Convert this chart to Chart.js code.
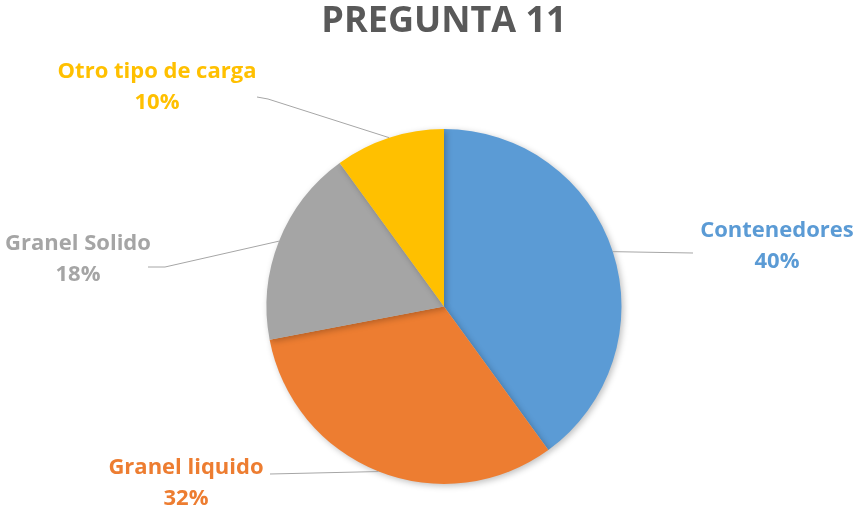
<!DOCTYPE html>
<html>
<head>
<meta charset="utf-8">
<script src="https://cdn.jsdelivr.net/npm/chart.js@4.4.1/dist/chart.umd.min.js"></script>
<style>
  html, body { margin: 0; padding: 0; background: #fff; }
  #wrap { width: 855px; height: 515px; }
</style>
</head>
<body>
<div id="wrap"><canvas id="chart" width="855" height="515"></canvas></div>
<script>
const categories = ['Contenedores', 'Granel liquido', 'Granel Solido', 'Otro tipo de carga'];
const percentages = [40, 32, 18, 10];
const sliceColors = ['#5B9BD5', '#ED7D31', '#A5A5A5', '#FFC000'];

// where each leader line ends (elbow) and where its label sits
const labelSpots = [
  { elbow: [[693, 253]], text: [777, 231] },
  { elbow: [[270, 474]], text: [186, 468] },
  { elbow: [[165, 267], [148, 267]], text: [78, 244] },
  { elbow: [[268, 99], [257, 97]], text: [157, 72] }
];

const shadowPlugin = {
  id: 'pieShadow',
  beforeDatasetDraw(chart) {
    const ctx = chart.ctx;
    ctx.save();
    ctx.shadowColor = 'rgba(0,0,0,0.25)';
    ctx.shadowBlur = 6;
    ctx.shadowOffsetX = 2;
    ctx.shadowOffsetY = 2;
  },
  afterDatasetDraw(chart) {
    chart.ctx.restore();
  }
};

const labelPlugin = {
  id: 'leaderLabels',
  afterDatasetsDraw(chart) {
    const ctx = chart.ctx;
    const meta = chart.getDatasetMeta(0);
    meta.data.forEach((arc, i) => {
      const mid = (arc.startAngle + arc.endAngle) / 2;
      const sx = arc.x + Math.cos(mid) * arc.outerRadius;
      const sy = arc.y + Math.sin(mid) * arc.outerRadius;
      const spot = labelSpots[i];
      ctx.save();
      ctx.strokeStyle = '#A6A6A6';
      ctx.lineWidth = 1;
      ctx.beginPath();
      ctx.moveTo(sx, sy);
      spot.elbow.forEach(p => ctx.lineTo(p[0], p[1]));
      ctx.stroke();
      ctx.fillStyle = sliceColors[i];
      ctx.font = 'bold 22px "Open Sans", sans-serif';
      ctx.textAlign = 'center';
      ctx.textBaseline = 'middle';
      ctx.fillText(categories[i], spot.text[0], spot.text[1]);
      ctx.fillText(percentages[i] + '%', spot.text[0], spot.text[1] + 31);
      ctx.restore();
    });
  }
};

new Chart(document.getElementById('chart'), {
  type: 'pie',
  data: {
    labels: categories,
    datasets: [{
      data: percentages,
      backgroundColor: sliceColors,
      borderWidth: 0
    }]
  },
  options: {
    responsive: false,
    animation: false,
    layout: { padding: { left: 33, right: 0, top: 0, bottom: 31 } },
    plugins: {
      legend: { display: false },
      tooltip: { enabled: false },
      title: {
        display: true,
        text: 'PREGUNTA 11',
        color: '#595959',
        font: { family: '"Open Sans", sans-serif', size: 36, weight: 'bold', lineHeight: 1.2 },
        padding: { top: 0, bottom: 85.8 }
      }
    }
  },
  plugins: [shadowPlugin, labelPlugin]
});
</script>
</body>
</html>
